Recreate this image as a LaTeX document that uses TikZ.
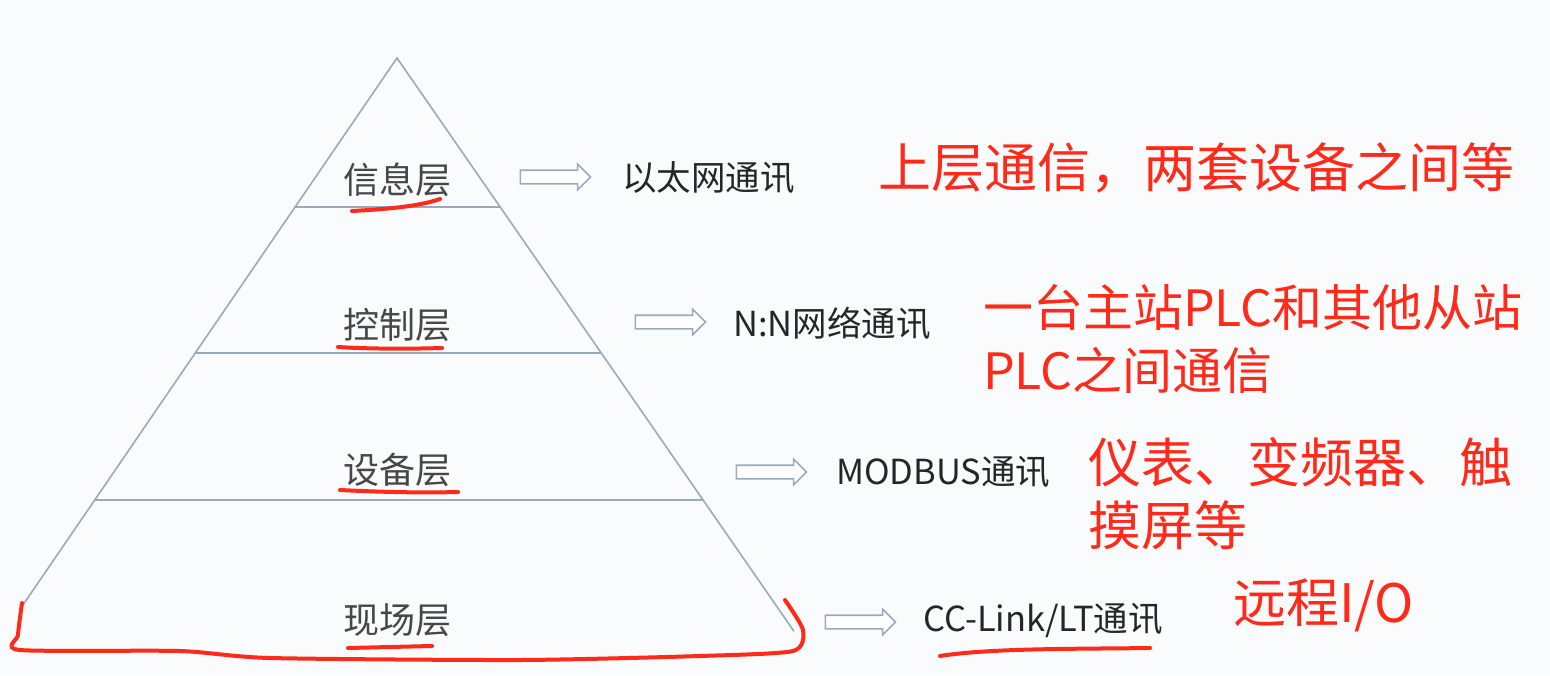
\documentclass[tikz,border=0pt]{standalone}
\usepackage{fontspec}
\setmainfont{Noto Sans CJK SC}
\usepackage{xcolor}
\usetikzlibrary{shapes.arrows, calc}

\definecolor{edgegray}{HTML}{9AAABB}
\definecolor{penred}{HTML}{FF2A1A}
\definecolor{paper}{HTML}{FAFBFC}

\begin{document}
\begin{tikzpicture}[
        x=1pt, y=-1pt,
        layer/.style={text=black!72, inner sep=0pt,
            font=\fontsize{36}{40}\selectfont},
        comm/.style={text=black!85, inner sep=0pt, anchor=west,
            font=\fontsize{34.5}{38}\selectfont},
        note/.style={text=penred, inner sep=0pt, anchor=west, align=left,
            font=\fontsize{53}{63}\selectfont},
        hollow/.style={single arrow, draw=edgegray, fill=white,
            line width=1.6pt, minimum height=70pt, inner xsep=0pt, inner ysep=6pt,
            single arrow head extend=6pt, single arrow head indent=0pt},
        side/.style={draw=edgegray, line width=1.6pt},
        pen/.style={draw=penred, line width=4pt, line cap=round, line join=round}
    ]
    \fill[paper] (0,0) rectangle (1550,675);
    \useasboundingbox (0,0) rectangle (1550,675);

    % pyramid
    \coordinate (apex) at (397,58);
    \coordinate (bl) at (-1,640);
    \coordinate (br) at (800,640);
    \draw[side] ($(apex)!0.94!(bl)$) -- (apex) -- ($(apex)!0.985!(br)$);
    \foreach \t in {0.256,0.507,0.759}
        \draw[side] ($(apex)!\t!(bl)$) -- ($(apex)!\t!(br)$);

    % layers
    \node[layer] (info)  at (397,180) {信息层};
    \node[layer] (ctrl)  at (397,325) {控制层};
    \node[layer] (dev)   at (397,470) {设备层};
    \node[layer] (field) at (397,620) {现场层};

    % arrows
    \node[hollow] (a1) at (552,177) {};
    \node[hollow] (a2) at (667,322) {};
    \node[hollow] (a3) at (768,472) {};
    \node[hollow] (a4) at (857,622) {};

    % communication
    \node[comm] (eth)  at (622,178) {以太网通讯};
    \node[comm] (nn)   at (733,323) {N:N网络通讯};
    \node[comm] (mod)  at (836,472) {MODBUS通讯};
    \node[comm] (cc)   at (923,620) {CC-Link/LT通讯};

    % notes
    \node[note] (n1) at (878,168) {上层通信，两套设备之间等};
    \node[note, font=\fontsize{50}{63}\selectfont] (n2) at (983,339)
        {一台主站PLC和其他从站\\PLC之间通信};
    \node[note] (n3) at (1088,494) {仪表、变频器、触\\摸屏等};
    \node[note] (n4) at (1233,605) {远程I/O};

    % pen marks
    \draw[pen] (352,211) .. controls (390,209) and (420,206) .. (440,199);
    \draw[pen] (338,347) .. controls (370,349) and (410,349) .. (442,348);
    \draw[pen] (340,490) .. controls (380,492) and (420,493) .. (458,492);
    \draw[pen] (348,648) -- (432,646);
    \draw[pen] (940,656) .. controls (990,648) and (1080,649) .. (1150,648);
    \draw[pen] plot[smooth, tension=0.4] coordinates {(22,603) (18,635) (20,650)
        (180,651) (270,658) (520,660) (700,656) (793,651) (803,630) (785,600)};
\end{tikzpicture}
\end{document}
